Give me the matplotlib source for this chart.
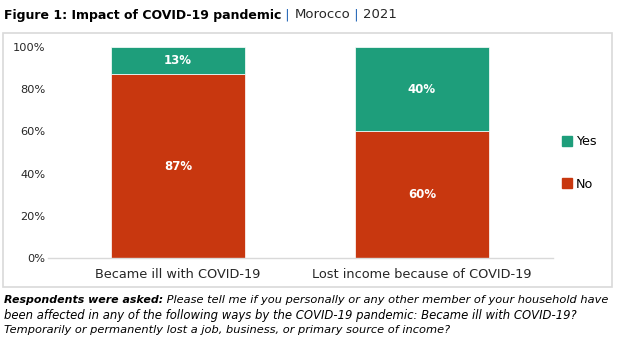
import matplotlib
matplotlib.use("Agg")
import matplotlib.pyplot as plt
from matplotlib.patches import Rectangle, Patch
import numpy as np

categories = ["Became ill with COVID-19", "Lost income because of COVID-19"]
no_vals = [87, 60]
yes_vals = [13, 40]
yticks = [0, 20, 40, 60, 80, 100]
ytick_labels = ["0%", "20%", "40%", "60%", "80%", "100%"]

RED = "#C8370F"
GREEN = "#1E9E7B"
FONT = ["DejaVu Sans"]
plt.rcParams["font.family"] = FONT

W, H = 625, 342
fig = plt.figure(figsize=(W / 100, H / 100), dpi=100)

def fx(px):
    return px / W

def fy(py):
    return 1 - py / H

# outer box
fig.patches.append(Rectangle((fx(3), fy(287)), fx(612) - fx(3), fy(33) - fy(287),
                             transform=fig.transFigure, fill=False,
                             edgecolor="#D9D9D9", linewidth=1.2))

ax = fig.add_axes([fx(48), fy(258), fx(553) - fx(48), fy(47) - fy(258)])
x = np.arange(len(categories))
width = 0.55
ax.bar(x, no_vals, width, color=RED, edgecolor="white", linewidth=0.5, label="No")
ax.bar(x, yes_vals, width, bottom=no_vals, color=GREEN, edgecolor="white", linewidth=0.5, label="Yes")

for i in range(len(categories)):
    ax.text(x[i], no_vals[i] / 2, f"{no_vals[i]}%", ha="center", va="center",
            color="white", fontsize=8.5, fontweight="bold")
    ax.text(x[i], no_vals[i] + yes_vals[i] / 2, f"{yes_vals[i]}%", ha="center", va="center",
            color="white", fontsize=8.5, fontweight="bold")

ax.set_xlim(-0.533, 1.537)
ax.set_ylim(0, 100)
ax.set_yticks(yticks)
ax.set_yticklabels(ytick_labels, fontsize=8.2, color="#262626")
ax.set_xticks(x)
ax.set_xticklabels(categories, fontsize=9.3, color="#262626")
ax.tick_params(axis="both", length=0)
ax.tick_params(axis="y", pad=2)
ax.tick_params(axis="x", pad=7)
for s in ["top", "right", "left"]:
    ax.spines[s].set_visible(False)
ax.spines["bottom"].set_color("#D9D9D9")
ax.spines["bottom"].set_linewidth(1.0)

handles = [Patch(color=GREEN, label="Yes"), Patch(color=RED, label="No")]
fig.legend(handles=handles, loc="center left", bbox_to_anchor=(fx(550), fy(163)),
           frameon=False, fontsize=9.2, handlelength=0.8, handleheight=0.8,
           handletextpad=0.3, labelspacing=2.3)

fig.canvas.draw()
r = fig.canvas.get_renderer()

def seq(parts, x0, y0):
    xc = x0
    for txt, kw in parts:
        t = fig.text(xc / W, 1 - y0 / H, txt, va="center", ha="left", **kw)
        bb = t.get_window_extent(renderer=r)
        xc += bb.width

seq([("Figure 1: Impact of COVID-19 pandemic", dict(fontsize=9.0, fontweight="bold", color="black")),
     (" | ", dict(fontsize=9.5, color="#2F6EBA")),
     ("Morocco", dict(fontsize=9.5, color="#262626")),
     (" | ", dict(fontsize=9.5, color="#2F6EBA")),
     ("2021", dict(fontsize=9.5, color="#262626"))], 4, 15)

seq([("Respondents were asked:", dict(fontsize=7.9, fontweight="bold", style="italic", color="black")),
     (" Please tell me if you personally or any other member of your household have",
      dict(fontsize=8.2, style="italic", color="black"))], 4, 300)
fig.text(fx(4), fy(315), "been affected in any of the following ways by the COVID-19 pandemic: Became ill with COVID-19?",
         fontsize=8.4, style="italic", va="center", ha="left")
fig.text(fx(4), fy(330), "Temporarily or permanently lost a job, business, or primary source of income?",
         fontsize=8.2, style="italic", va="center", ha="left")

fig.savefig("out.png", dpi=100)
